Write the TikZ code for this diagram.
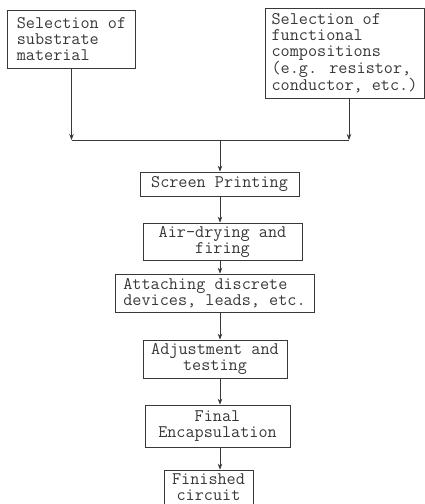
\documentclass[tikz,border=0pt]{standalone}
\usepackage{fontspec}
\usetikzlibrary{arrows.meta}
\begin{document}
\begin{tikzpicture}[x=1pt, y=-1pt, color=black!78, line width=0.7pt,
  procbox/.style={draw, inner sep=0pt, align=center,
    font=\ttfamily\fontsize{17.7}{16}\selectfont},
  flowarrow/.style={-{Stealth[length=6pt, width=4.5pt]}}]
\useasboundingbox (0,0) rectangle (425,504);

%input boxes
  \node[procbox, align=left, minimum width=128, minimum height=58] (sub) at (71.5,39) {Selection of\\substrate\\material};
  \node[procbox, align=left, minimum width=159, minimum height=90] (func) at (344.5,53) {Selection of\\functional\\compositions\\(e.g. resistor,\\conductor, etc.)};

%joining line
  \coordinate (jl) at (71.5,140);
  \coordinate (jr) at (349,140);
  \coordinate (jm) at (220,140);

%process steps
  \node[procbox, minimum width=159, minimum height=24] (screen) at (219.5,184) {Screen Printing};
  \node[procbox, minimum width=159, minimum height=37] (air) at (222.5,241.5) {Air-drying and\\firing};
  \node[procbox, align=left, minimum width=199, minimum height=38] (attach) at (214.5,293) {Attaching discrete\\devices, leads, etc.};
  \node[procbox, minimum width=144, minimum height=38] (adjust) at (215,359) {Adjustment and\\testing};
  \node[procbox, minimum width=145, minimum height=42] (final) at (217.5,426) {Final\\Encapsulation};
  \node[procbox, minimum width=89, minimum height=35] (finished) at (208.5,487.5) {Finished\\circuit};

  \draw[flowarrow] (sub.south) -- (jl);
  \draw[flowarrow] (func.south -| jr) -- (jr);
  \draw (jl) -- (jr);
  \draw[flowarrow] (jm) -- (screen.north -| jm);
  \draw[flowarrow] (screen.south -| jm) -- (air.north -| jm);
  \draw[flowarrow] (air.south -| jm) -- (attach.north -| jm);
  \draw[flowarrow] (attach.south -| jm) -- (adjust.north -| jm);
  \draw[flowarrow] (adjust.south -| jm) -- (final.north -| jm);
  \draw[flowarrow] (final.south -| jm) -- (finished.north -| jm);
\end{tikzpicture}
\end{document}
